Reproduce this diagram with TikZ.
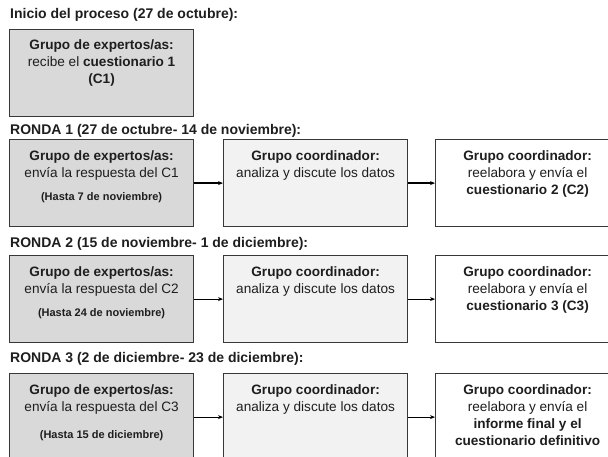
\documentclass[tikz,border=0pt]{standalone}
\usepackage{fontspec}
\setmainfont{Liberation Sans}
\usetikzlibrary{arrows.meta}
\definecolor{bord}{HTML}{383838}
\definecolor{gA}{HTML}{D9D9D9}
\definecolor{gB}{HTML}{F2F2F2}
\definecolor{txt}{HTML}{1E1E1E}
\begin{document}
\begin{tikzpicture}[x=1pt,y=-1pt,
  box/.style={draw=bord, line width=1.2pt, minimum width=184pt, minimum height=87pt, inner sep=0pt, anchor=north west},
  boxA/.style={box, fill=gA},
  boxB/.style={box, fill=gB},
  boxC/.style={box, fill=white},
  lines/.style={align=center, inner sep=0pt, anchor=north, text=txt, font=\fontsize{13.6}{17}\selectfont},
  small/.style={inner sep=0pt, text=txt, font=\fontsize{11}{13}\selectfont\bfseries},
  title/.style={inner sep=0pt, anchor=base west, text=txt, font=\fontsize{14}{16}\selectfont\bfseries},
  arr/.style={line width=1.2pt, black, -{Stealth[length=5pt,width=4pt]}}]
\useasboundingbox (0,0) rectangle (608,457);
\clip (0,0) rectangle (608,457);
\fill[white] (0,0) rectangle (608,457);

% Inicio
\node[title] (t0) at (10,19) {Inicio del proceso (27 de octubre):};
\node[boxA] (b0) at (9,29) {};
\node[lines] (b0t) at ([yshift=-10pt]b0.north) {\textbf{Grupo de expertos/as:}\\recibe el \textbf{cuestionario 1}\\\textbf{(C1)}};

% Ronda 1
\node[title] (t1) at (10,135) {RONDA 1 (27 de octubre- 14 de noviembre):};
\node[boxA] (a1) at (9,139) {};
\node[boxB] (m1) at (223,139) {};
\node[boxC] (r1) at (435,139) {};
\node[lines] (a1t) at ([yshift=-11pt]a1.north) {\textbf{Grupo de expertos/as:}\\envía la respuesta del C1};
\node[small] (a1h) at ([yshift=-59pt]a1.north) {(Hasta 7 de noviembre)};
\node[lines] (m1t) at ([yshift=-11pt]m1.north) {\textbf{Grupo coordinador:}\\analiza y discute los datos};
\node[lines] (r1t) at ([yshift=-11pt]r1.north) {\textbf{Grupo coordinador:}\\reelabora y envía el\\\textbf{cuestionario 2 (C2)}};
\draw[arr] (a1) -- (m1);
\draw[arr] (m1) -- (r1);

% Ronda 2
\node[title] (t2) at (10,248) {RONDA 2 (15 de noviembre- 1 de diciembre):};
\node[boxA] (a2) at (9,255) {};
\node[boxB] (m2) at (223,255) {};
\node[boxC] (r2) at (435,255) {};
\node[lines] (a2t) at ([yshift=-11pt]a2.north) {\textbf{Grupo de expertos/as:}\\envía la respuesta del C2};
\node[small] (a2h) at ([yshift=-59pt]a2.north) {(Hasta 24 de noviembre)};
\node[lines] (m2t) at ([yshift=-11pt]m2.north) {\textbf{Grupo coordinador:}\\analiza y discute los datos};
\node[lines] (r2t) at ([yshift=-11pt]r2.north) {\textbf{Grupo coordinador:}\\reelabora y envía el\\\textbf{cuestionario 3 (C3)}};
\draw[arr] (a2) -- (m2);
\draw[arr] (m2) -- (r2);

% Ronda 3
\node[title] (t3) at (10,362) {RONDA 3 (2 de diciembre- 23 de diciembre):};
\node[boxA] (a3) at (9,373) {};
\node[boxB] (m3) at (223,373) {};
\node[boxC] (r3) at (435,373) {};
\node[lines] (a3t) at ([yshift=-11pt]a3.north) {\textbf{Grupo de expertos/as:}\\envía la respuesta del C3};
\node[small] (a3h) at ([yshift=-63pt]a3.north) {(Hasta 15 de diciembre)};
\node[lines] (m3t) at ([yshift=-11pt]m3.north) {\textbf{Grupo coordinador:}\\analiza y discute los datos};
\node[lines] (r3t) at ([yshift=-11pt]r3.north) {\textbf{Grupo coordinador:}\\reelabora y envía el\\\textbf{informe final y el}\\\textbf{cuestionario definitivo}};
\draw[arr] (a3) -- (m3);
\draw[arr] (m3) -- (r3);
\end{tikzpicture}
\end{document}
